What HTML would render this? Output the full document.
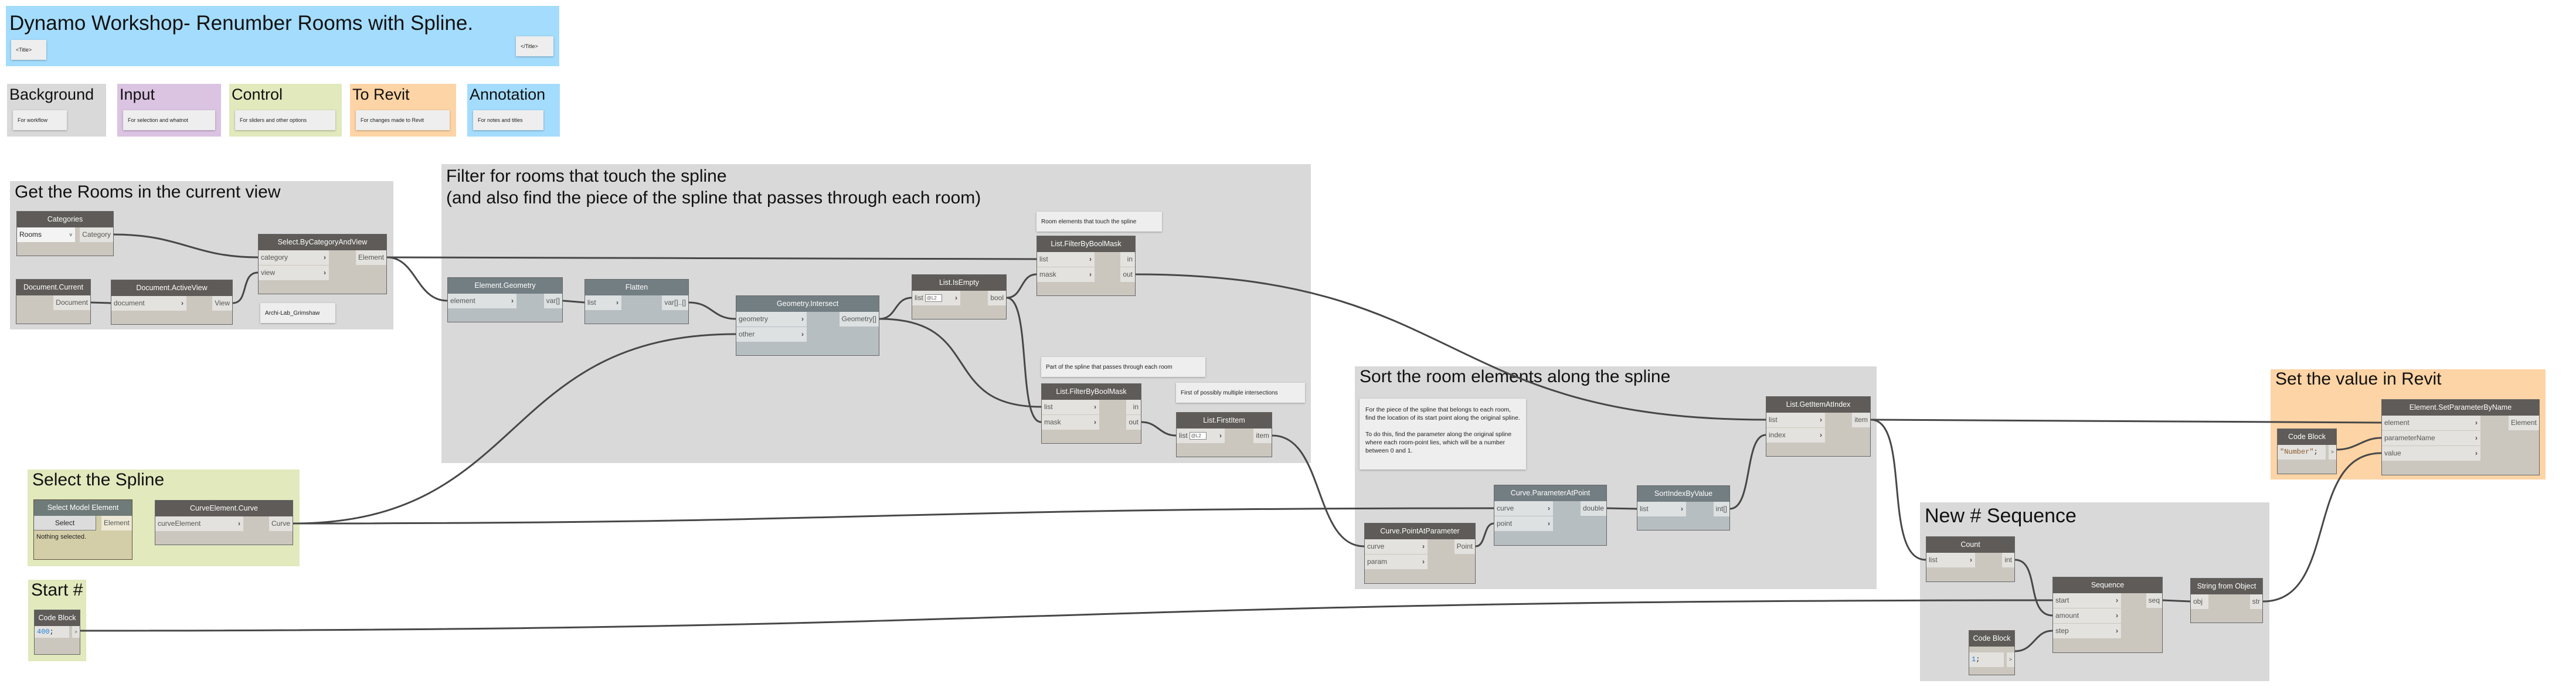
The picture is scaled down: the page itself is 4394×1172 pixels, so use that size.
<!DOCTYPE html>
<html><head><meta charset="utf-8"><style>
*{margin:0;padding:0}
body{width:4394px;height:1172px;background:#fff;position:relative;overflow:hidden;font-family:"Liberation Sans",sans-serif}
.grp{position:absolute}
.gt{position:absolute;left:8px;font-size:30px;line-height:34px;white-space:nowrap;color:#111}
.lg{font-size:27px;line-height:32px}
.note{position:absolute;background:#eeeeee;box-shadow:0 1px 3px rgba(0,0,0,.3);font-size:10px;color:#222;box-sizing:border-box;padding:0 8px;display:flex;align-items:center;white-space:nowrap}
.n{position:absolute;background:#cbc7bf;border:1px solid #666;box-sizing:border-box}
.h{height:27px;background:#5e5b58;color:#fff;text-align:center;line-height:27px;font-size:12.5px;white-space:nowrap;overflow:hidden}
.ins{position:absolute;left:0;top:27px}
.outs{position:absolute;right:0;top:27px}
.r{height:25px;margin-bottom:1px;background:#e4e2de;line-height:25px;font-size:12px;padding-left:4px;color:#555;position:relative;box-sizing:border-box;white-space:nowrap}
.r i{position:absolute;right:5px;font-style:normal;font-weight:bold;color:#444}
.o{height:25px;margin-bottom:1px;background:#e4e2de;line-height:25px;font-size:12px;padding:0 4px;color:#555;text-align:right;white-space:nowrap}
.gm{background:#b7bec1}
.gm .h{background:#737e83}
.gm .r,.gm .o{background:#dde1e2}
.lac{display:inline-block;border:1px solid #888;background:#fff;font-size:8px;line-height:11px;padding:0 8px 0 2px;margin-left:3px;vertical-align:middle}
.code{font-family:"Liberation Mono",monospace;font-size:12px}
</style></head><body>

<div class="grp" style="left:10px;top:10px;width:944px;height:103px;background:#a4dcfd">
 <div class="gt" style="left:6px;top:10px;font-size:35px;line-height:40px">Dynamo Workshop- Renumber Rooms with Spline.</div>
</div>
<div class="note" style="left:19px;top:68px;width:60px;height:34px;font-size:9px">&lt;Title&gt;</div>
<div class="note" style="left:880px;top:62px;width:64px;height:34px;font-size:9px">&lt;/Title&gt;</div>

<div class="grp" style="left:12px;top:143px;width:169px;height:90px;background:#d9d9d9"><div class="gt lg" style="left:4px;top:2px">Background</div></div>
<div class="grp" style="left:200px;top:143px;width:177px;height:90px;background:#dbc3e2"><div class="gt lg" style="left:4px;top:2px">Input</div></div>
<div class="grp" style="left:391px;top:143px;width:192px;height:90px;background:#e1e9bd"><div class="gt lg" style="left:4px;top:2px">Control</div></div>
<div class="grp" style="left:597px;top:143px;width:181px;height:90px;background:#fdd4a5"><div class="gt lg" style="left:4px;top:2px">To Revit</div></div>
<div class="grp" style="left:797px;top:143px;width:158px;height:90px;background:#a4dcfd"><div class="gt lg" style="left:4px;top:2px">Annotation</div></div>
<div class="note" style="left:22px;top:188px;width:92px;height:34px;font-size:9px">For workflow</div>
<div class="note" style="left:210px;top:188px;width:157px;height:34px;font-size:9px">For selection and whatnot</div>
<div class="note" style="left:401px;top:188px;width:171px;height:34px;font-size:9px">For sliders and other options</div>
<div class="note" style="left:607px;top:188px;width:160px;height:34px;font-size:9px">For changes made to Revit</div>
<div class="note" style="left:807px;top:188px;width:120px;height:34px;font-size:9px">For notes and titles</div>

<div class="grp" style="left:17px;top:309px;width:654px;height:253px;background:#d9d9d9"><div class="gt" style="top:2px">Get the Rooms in the current view</div></div>
<div class="grp" style="left:753px;top:280px;width:1483px;height:510px;background:#d9d9d9"><div class="gt" style="top:2px;line-height:37px">Filter for rooms that touch the spline<br>(and also find the piece of the spline that passes through each room)</div></div>
<div class="grp" style="left:47px;top:801px;width:464px;height:165px;background:#e1e9bd"><div class="gt" style="top:1px">Select the Spline</div></div>
<div class="grp" style="left:48px;top:989px;width:99px;height:139px;background:#e1e9bd"><div class="gt" style="left:5px;top:1px">Start #</div></div>
<div class="grp" style="left:2311px;top:625px;width:890px;height:380px;background:#d9d9d9"><div class="gt" style="top:1px">Sort the room elements along the spline</div></div>
<div class="grp" style="left:3873px;top:630px;width:469px;height:188px;background:#fdd4a5"><div class="gt" style="top:0px">Set the value in Revit</div></div>
<div class="grp" style="left:3275px;top:857px;width:596px;height:305px;background:#d9d9d9"><div class="gt" style="top:4px;font-size:34px;line-height:38px">New # Sequence</div></div>

<div class="note" style="left:444px;top:517px;width:128px;height:34px">Archi-Lab_Grimshaw</div>
<div class="note" style="left:1768px;top:361px;width:214px;height:34px">Room elements that touch the spline</div>
<div class="note" style="left:1776px;top:609px;width:280px;height:34px">Part of the spline that passes through each room</div>
<div class="note" style="left:2006px;top:653px;width:220px;height:34px">First of possibly multiple intersections</div>
<div class="note" style="left:2319px;top:680px;width:284px;height:121px;white-space:normal;display:block;padding:12px 10px;line-height:14px;font-size:10.5px">For the piece of the spline that belongs to each room, find the location of its start point along the original spline.<br><br>To do this, find the parameter along the original spline where each room-point lies, which will be a number between 0 and 1.</div>

<svg style="position:absolute;left:0;top:0" width="4394" height="1172" fill="none" stroke="#474747" stroke-width="3">
<path d="M194 400 C310 400,330 439,440 439"/>
<path d="M155 516 L189 517"/>
<path d="M397 517 C425 517,410 465,440 465"/>
<path d="M660 439 C710 439,710 513,763 513"/>
<path d="M660 439 C1200 439,1200 442,1768 442"/>
<path d="M960 513 L997 516"/>
<path d="M1175 516 C1215 516,1215 544,1255 544"/>
<path d="M500 893 C900 893,850 570,1255 570"/>
<path d="M500 893 C1500 893,1500 867,2548 867"/>
<path d="M1500 544 C1530 544,1525 508,1555 508"/>
<path d="M1500 544 C1680 544,1600 694,1776 694"/>
<path d="M1717 508 C1745 508,1740 468,1768 468"/>
<path d="M1717 508 C1760 508,1735 720,1776 720"/>
<path d="M1947 720 C1975 720,1978 743,2006 743"/>
<path d="M1937 468 C2500 468,2450 716,3012 716"/>
<path d="M2170 743 C2260 743,2240 932,2327 932"/>
<path d="M2517 932 C2535 932,2530 893,2548 893"/>
<path d="M2741 867 L2792 868"/>
<path d="M2951 868 C2990 868,2975 742,3012 742"/>
<path d="M3191 716 C3600 716,3650 721,4062 721"/>
<path d="M3191 716 C3260 716,3210 955,3285 955"/>
<path d="M3437 955 C3480 955,3455 1050,3501 1050"/>
<path d="M137 1076 C1800 1076,1800 1024,3501 1024"/>
<path d="M3437 1111 C3470 1111,3470 1076,3501 1076"/>
<path d="M3689 1024 L3736 1026"/>
<path d="M3860 1026 C3990 1026,3930 773,4062 773"/>
<path d="M3986 767 C4020 767,4030 747,4062 747"/>
</svg>

<div class="n" style="left:28px;top:360px;width:166px;height:77px"><div class="h">Categories</div>
 <div class="ins"><div class="r" style="width:99px;background:#f3f3f3;color:#222">Rooms<i style="font-weight:normal;font-size:9px">v</i></div></div>
 <div class="outs"><div class="o">Category</div></div></div>

<div class="n" style="left:440px;top:399px;width:220px;height:103px"><div class="h">Select.ByCategoryAndView</div>
 <div class="ins"><div class="r" style="width:120px">category<i>&#x203A;</i></div><div class="r" style="width:120px">view<i>&#x203A;</i></div></div>
 <div class="outs"><div class="o">Element</div></div></div>

<div class="n" style="left:27px;top:476px;width:128px;height:77px"><div class="h">Document.Current</div>
 <div class="outs"><div class="o">Document</div></div></div>

<div class="n" style="left:189px;top:477px;width:208px;height:77px"><div class="h">Document.ActiveView</div>
 <div class="ins"><div class="r" style="width:128px">document<i>&#x203A;</i></div></div>
 <div class="outs"><div class="o">View</div></div></div>

<div class="n gm" style="left:763px;top:473px;width:197px;height:77px"><div class="h">Element.Geometry</div>
 <div class="ins"><div class="r" style="width:117px">element<i>&#x203A;</i></div></div>
 <div class="outs"><div class="o">var[]</div></div></div>

<div class="n gm" style="left:997px;top:476px;width:178px;height:77px"><div class="h">Flatten</div>
 <div class="ins"><div class="r" style="width:62px">list<i>&#x203A;</i></div></div>
 <div class="outs"><div class="o">var[]..[]</div></div></div>

<div class="n gm" style="left:1255px;top:504px;width:245px;height:103px"><div class="h">Geometry.Intersect</div>
 <div class="ins"><div class="r" style="width:120px">geometry<i>&#x203A;</i></div><div class="r" style="width:120px">other<i>&#x203A;</i></div></div>
 <div class="outs"><div class="o">Geometry[]</div></div></div>

<div class="n" style="left:1555px;top:468px;width:162px;height:77px"><div class="h">List.IsEmpty</div>
 <div class="ins"><div class="r" style="width:82px">list<span class="lac">@L2</span><i>&#x203A;</i></div></div>
 <div class="outs"><div class="o">bool</div></div></div>

<div class="n" style="left:1768px;top:402px;width:169px;height:103px"><div class="h">List.FilterByBoolMask</div>
 <div class="ins"><div class="r" style="width:98px">list<i>&#x203A;</i></div><div class="r" style="width:98px">mask<i>&#x203A;</i></div></div>
 <div class="outs"><div class="o">in</div><div class="o">out</div></div></div>

<div class="n" style="left:1776px;top:654px;width:171px;height:103px"><div class="h">List.FilterByBoolMask</div>
 <div class="ins"><div class="r" style="width:98px">list<i>&#x203A;</i></div><div class="r" style="width:98px">mask<i>&#x203A;</i></div></div>
 <div class="outs"><div class="o">in</div><div class="o">out</div></div></div>

<div class="n" style="left:2006px;top:703px;width:164px;height:77px"><div class="h">List.FirstItem</div>
 <div class="ins"><div class="r" style="width:82px">list<span class="lac">@L2</span><i>&#x203A;</i></div></div>
 <div class="outs"><div class="o">item</div></div></div>

<div class="n" style="left:57px;top:852px;width:169px;height:103px;background:#d4cea8;border-color:#5e5440"><div class="h" style="background:#6f7b78">Select Model Element</div>
 <div class="ins"><div class="r" style="width:106px;background:#dcdcdc;color:#222;text-align:center;padding:0;border-right:1px solid #777;border-bottom:1px solid #777">Select</div>
 <div style="font-size:11px;padding:4px 4px;color:#222">Nothing selected.</div></div>
 <div class="outs"><div class="o" style="background:#ede9d6">Element</div></div></div>

<div class="n" style="left:264px;top:853px;width:236px;height:77px"><div class="h">CurveElement.Curve</div>
 <div class="ins"><div class="r" style="width:150px">curveElement<i>&#x203A;</i></div></div>
 <div class="outs"><div class="o">Curve</div></div></div>

<div class="n" style="left:58px;top:1040px;width:79px;height:77px"><div class="h">Code Block</div>
 <div class="ins"><div class="r code" style="width:59px;color:#222;height:20px;line-height:20px"><span style="color:#1e7fd8">400</span>;</div></div>
 <div class="outs"><div class="o" style="height:20px;line-height:20px;font-size:9px">&gt;</div></div></div>

<div class="n" style="left:2327px;top:892px;width:190px;height:104px"><div class="h">Curve.PointAtParameter</div>
 <div class="ins"><div class="r" style="width:107px">curve<i>&#x203A;</i></div><div class="r" style="width:107px">param<i>&#x203A;</i></div></div>
 <div class="outs"><div class="o">Point</div></div></div>

<div class="n gm" style="left:2548px;top:827px;width:193px;height:104px"><div class="h">Curve.ParameterAtPoint</div>
 <div class="ins"><div class="r" style="width:100px">curve<i>&#x203A;</i></div><div class="r" style="width:100px">point<i>&#x203A;</i></div></div>
 <div class="outs"><div class="o">double</div></div></div>

<div class="n gm" style="left:2792px;top:828px;width:159px;height:77px"><div class="h">SortIndexByValue</div>
 <div class="ins"><div class="r" style="width:83px">list<i>&#x203A;</i></div></div>
 <div class="outs"><div class="o">int[]</div></div></div>

<div class="n" style="left:3012px;top:676px;width:179px;height:103px"><div class="h">List.GetItemAtIndex</div>
 <div class="ins"><div class="r" style="width:100px">list<i>&#x203A;</i></div><div class="r" style="width:100px">index<i>&#x203A;</i></div></div>
 <div class="outs"><div class="o">item</div></div></div>

<div class="n" style="left:4062px;top:681px;width:270px;height:130px"><div class="h">Element.SetParameterByName</div>
 <div class="ins"><div class="r" style="width:168px">element<i>&#x203A;</i></div><div class="r" style="width:168px">parameterName<i>&#x203A;</i></div><div class="r" style="width:168px">value<i>&#x203A;</i></div></div>
 <div class="outs"><div class="o">Element</div></div></div>

<div class="n" style="left:3884px;top:731px;width:102px;height:78px"><div class="h">Code Block</div>
 <div class="ins"><div class="r code" style="width:82px;color:#222;line-height:25px"><span style="color:#8a5a2c">"Number"</span>;</div></div>
 <div class="outs"><div class="o" style="font-size:9px">&gt;</div></div></div>

<div class="n" style="left:3285px;top:915px;width:152px;height:78px"><div class="h">Count</div>
 <div class="ins"><div class="r" style="width:83px">list<i>&#x203A;</i></div></div>
 <div class="outs"><div class="o">int</div></div></div>

<div class="n" style="left:3501px;top:984px;width:188px;height:130px"><div class="h">Sequence</div>
 <div class="ins"><div class="r" style="width:116px">start<i>&#x203A;</i></div><div class="r" style="width:116px">amount<i>&#x203A;</i></div><div class="r" style="width:116px">step<i>&#x203A;</i></div></div>
 <div class="outs"><div class="o">seq</div></div></div>

<div class="n" style="left:3736px;top:986px;width:124px;height:77px"><div class="h">String from Object</div>
 <div class="ins"><div class="r" style="width:30px">obj</div></div>
 <div class="outs"><div class="o">str</div></div></div>

<div class="n" style="left:3358px;top:1075px;width:79px;height:77px"><div class="h">Code Block</div>
 <div class="ins"><div class="r code" style="width:59px;color:#222;top:10px"><span style="color:#1e7fd8">1</span>;</div></div>
 <div class="outs"><div class="o" style="font-size:9px;margin-top:10px">&gt;</div></div></div>

</body></html>
